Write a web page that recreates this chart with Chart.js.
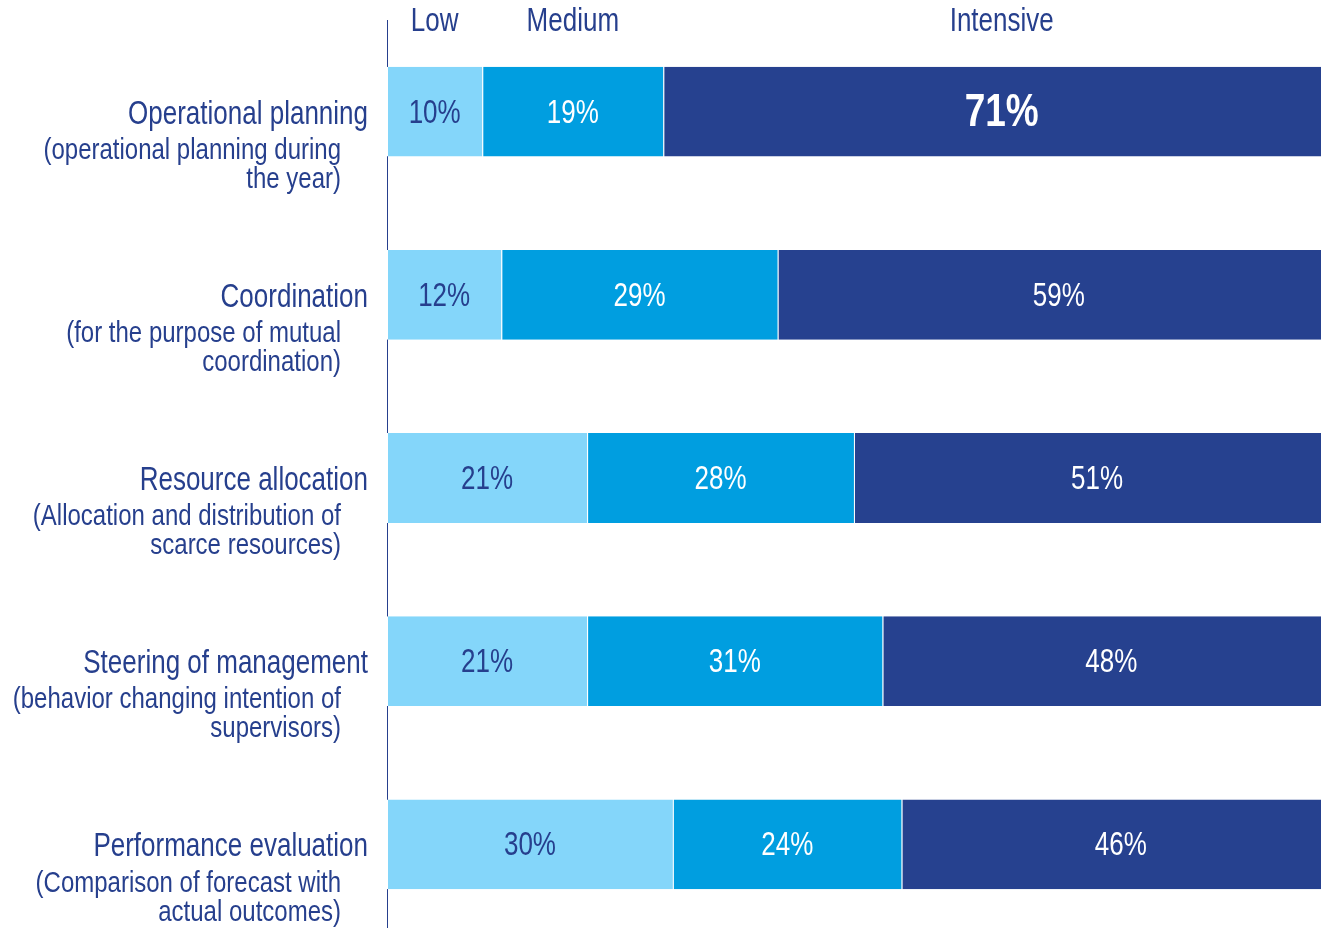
<!DOCTYPE html>
<html>
<head>
<meta charset="utf-8">
<script src="https://cdn.jsdelivr.net/npm/chart.js@4"></script>
<style>
  html, body { margin: 0; padding: 0; background: #fff; overflow: hidden; }
  #wrap { width: 1341px; height: 936px; }
</style>
</head>
<body>
<div id="wrap"><canvas id="chart" width="1341" height="936"></canvas></div>
<script>
// Data
const categories = ['Operational planning', 'Coordination', 'Resource allocation', 'Steering of management', 'Performance evaluation'];
const subtitles = [
  ['(operational planning during', 'the year)'],
  ['(for the purpose of mutual', 'coordination)'],
  ['(Allocation and distribution of', 'scarce resources)'],
  ['(behavior changing intention of', 'supervisors)'],
  ['(Comparison of forecast with', 'actual outcomes)']
];
const seriesNames = ['Low', 'Medium', 'Intensive'];
const lowValues = [10, 12, 21, 21, 30];
const mediumValues = [19, 29, 28, 31, 24];
const intensiveValues = [71, 59, 51, 48, 46];

const DARK = '#263F8D';
const FONT = '"Liberation Sans", Arial, sans-serif';
const STRETCH = 1.25;

function drawText(ctx, text, x, y, font, color, align) {
  ctx.save();
  ctx.translate(x, y);
  ctx.scale(1, STRETCH);
  ctx.font = font;
  ctx.fillStyle = color;
  ctx.textAlign = align;
  ctx.textBaseline = 'middle';
  ctx.fillText(text, 0, 0);
  ctx.restore();
}

const labelPlugin = {
  id: 'labelPlugin',
  afterDatasetsDraw(chart) {
    const ctx = chart.ctx;
    // values inside bars
    chart.data.datasets.forEach((ds, di) => {
      chart.getDatasetMeta(di).data.forEach((bar, i) => {
        const cx = (bar.x + bar.base) / 2;
        const big = di === 2 && i === 0;
        drawText(ctx, ds.data[i] + '%', cx, bar.y + 2,
          big ? 'bold 37px ' + FONT : '26px ' + FONT,
          di === 0 ? DARK : '#ffffff', 'center');
      });
    });
    // series headers above first bar
    chart.data.datasets.forEach((ds, di) => {
      const bar = chart.getDatasetMeta(di).data[0];
      drawText(ctx, ds.label, (bar.x + bar.base) / 2, 22, '26px ' + FONT, DARK, 'center');
    });
    // category labels on the left
    const yScale = chart.scales.y;
    categories.forEach((c, i) => {
      const y = yScale.getPixelForValue(i);
      drawText(ctx, c, 368, y + 3, '26px ' + FONT, DARK, 'right');
      subtitles[i].forEach((line, k) => {
        drawText(ctx, line, 341, y + 39 + k * 29, '24px ' + FONT, DARK, 'right');
      });
    });
  }
};

const colors = ['#84D6FA', '#009EE0', '#26418F'];
const values = [lowValues, mediumValues, intensiveValues];

new Chart(document.getElementById('chart'), {
  type: 'bar',
  data: {
    labels: categories,
    datasets: seriesNames.map((name, i) => ({
      label: name,
      data: values[i],
      backgroundColor: colors[i],
      borderColor: '#ffffff',
      borderWidth: { left: 1, right: 0, top: 0, bottom: 0 },
      borderSkipped: false,
      barPercentage: 1,
      categoryPercentage: 0.49
    }))
  },
  options: {
    indexAxis: 'y',
    responsive: false,
    animation: false,
    layout: { padding: { top: 20, right: 1, bottom: 0, left: 0 } },
    plugins: {
      legend: { display: false },
      tooltip: { enabled: false }
    },
    scales: {
      x: { stacked: true, min: 0, max: 100, display: false },
      y: {
        stacked: true,
        afterFit(scale) { scale.width = 387; },
        grid: { display: false, drawTicks: false },
        border: { display: true, color: DARK, width: 1 },
        ticks: { display: false }
      }
    }
  },
  plugins: [labelPlugin]
});
</script>
</body>
</html>
